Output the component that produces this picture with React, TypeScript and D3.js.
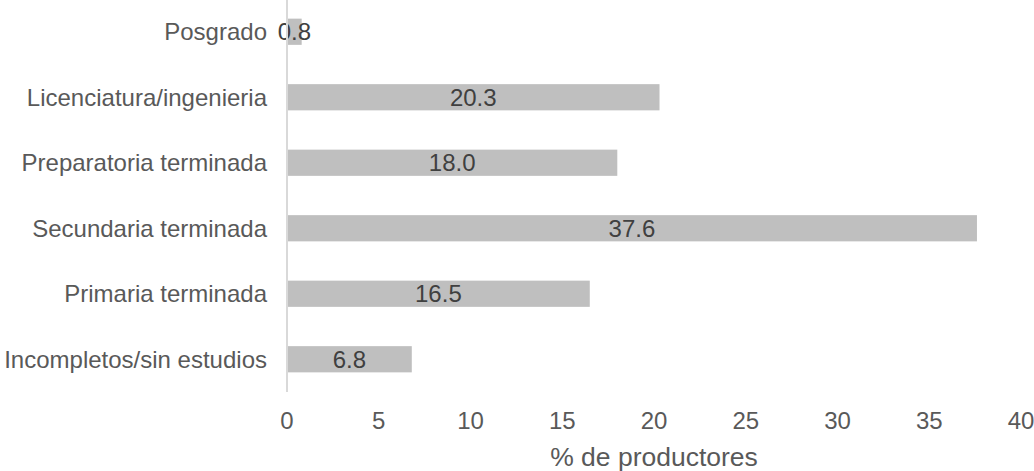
import React from "react";
import * as d3 from "d3";

const categories = [
  "Posgrado",
  "Licenciatura/ingenieria",
  "Preparatoria terminada",
  "Secundaria terminada",
  "Primaria terminada",
  "Incompletos/sin estudios",
];
const values = [0.8, 20.3, 18.0, 37.6, 16.5, 6.8];
const xTicks = [0, 5, 10, 15, 20, 25, 30, 35, 40];
const xTitle = "% de productores";

const W = 1034;
const H = 471;
const margin = { left: 287, right: 13, top: -1, bottom: 79 };

export default function App() {
  const x = d3.scaleLinear().domain([0, 40]).range([margin.left, W - margin.right]);
  const y = d3
    .scaleBand<string>()
    .domain(categories)
    .range([margin.top, H - margin.bottom])
    .paddingInner(0.6)
    .paddingOuter(0.3);
  const font = "'Liberation Sans', Arial, sans-serif";
  return (
    <svg
      width={W}
      height={H}
      style={{ position: "absolute", left: 0, top: 0, background: "#fff" }}
      fontFamily={font}
    >
      {categories.map((c, i) => (
        <g key={c}>
          <rect
            x={x(0)}
            y={y(c)!}
            width={x(values[i]) - x(0)}
            height={y.bandwidth()}
            fill="#bfbfbf"
          />
          <text
            x={(x(0) + x(values[i])) / 2}
            y={y(c)! + y.bandwidth() / 2}
            dy="0.35em"
            textAnchor="middle"
            fontSize={24}
            fill="#404040"
          >
            {values[i].toFixed(1)}
          </text>
          <text
            x={x(0) - 20}
            y={y(c)! + y.bandwidth() / 2}
            dy="0.35em"
            textAnchor="end"
            fontSize={24}
            fill="#595959"
          >
            {c}
          </text>
        </g>
      ))}
      <line
        x1={x(0)}
        x2={x(0)}
        y1={margin.top}
        y2={H - margin.bottom}
        stroke="#d9d9d9"
        strokeWidth={2}
      />
      {xTicks.map((t) => (
        <text
          key={t}
          x={x(t)}
          y={421}
          dy="0.35em"
          textAnchor="middle"
          fontSize={24}
          fill="#595959"
        >
          {t}
        </text>
      ))}
      <text
        x={(x(0) + x(40)) / 2}
        y={457}
        dy="0.35em"
        textAnchor="middle"
        fontSize={26.5}
        fill="#595959"
      >
        {xTitle}
      </text>
    </svg>
  );
}
